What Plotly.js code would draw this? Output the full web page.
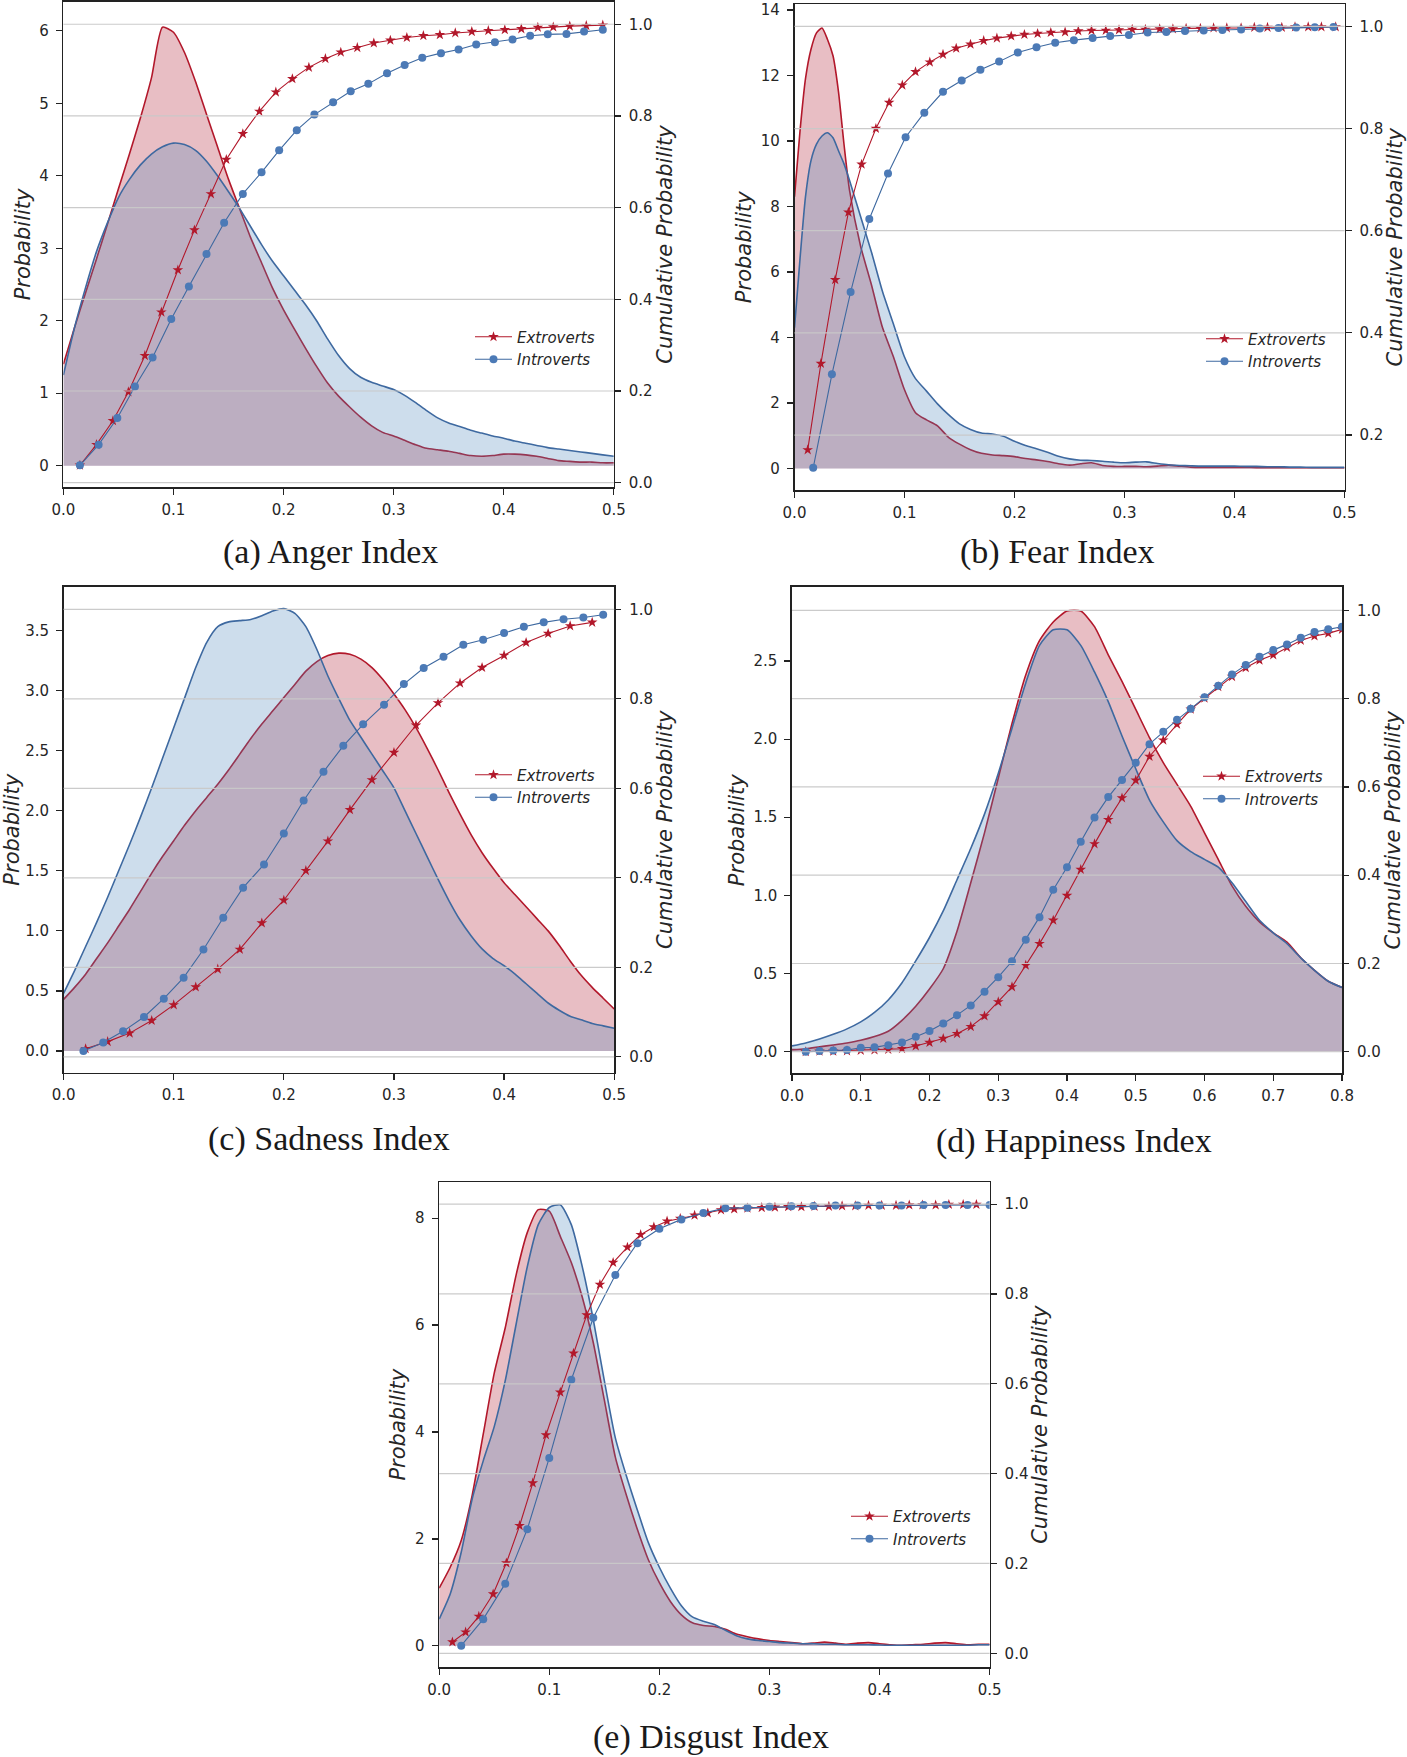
<!DOCTYPE html>
<html>
<head>
<meta charset="utf-8">
<script src="https://cdn.plot.ly/plotly-3.0.1.min.js"></script>
<style>html,body{margin:0;padding:0;background:#fff;}#chart{width:1407px;height:1757px;}</style>
</head>
<body>
<div id="chart"></div>
<script>
// ---------------- DATA ----------------
const seriesNames = ['Extroverts', 'Introverts'];
const captions = ['(a) Anger Index', '(b) Fear Index', '(c) Sadness Index', '(d) Happiness Index', '(e) Disgust Index'];
const leftTitle = 'Probability';
const rightTitle = 'Cumulative Probability';
const cdfTicks = [0, 0.2, 0.4, 0.6, 0.8, 1.0];

// (a) Anger
const angerX = [0,0.01,0.02,0.03,0.04,0.05,0.06,0.07,0.08,0.09,0.10,0.11,0.12,0.13,0.14,0.15,0.16,0.17,0.18,0.19,0.20,0.21,0.22,0.23,0.24,0.25,0.26,0.27,0.28,0.29,0.30,0.31,0.32,0.33,0.34,0.35,0.36,0.37,0.38,0.39,0.40,0.41,0.42,0.43,0.44,0.45,0.46,0.47,0.48,0.49,0.50];
const angerKdeExt = [1.40,1.90,2.38,2.85,3.33,3.82,4.30,4.80,5.35,6.05,5.98,5.70,5.30,4.85,4.40,3.95,3.55,3.15,2.80,2.45,2.15,1.88,1.62,1.37,1.14,0.96,0.81,0.67,0.55,0.46,0.41,0.35,0.29,0.24,0.22,0.20,0.17,0.14,0.13,0.14,0.16,0.16,0.15,0.13,0.10,0.07,0.06,0.05,0.05,0.04,0.04];
const angerKdeInt = [1.25,1.90,2.45,2.95,3.35,3.70,3.95,4.15,4.30,4.40,4.45,4.43,4.35,4.20,4.00,3.78,3.55,3.30,3.05,2.82,2.62,2.42,2.22,2.00,1.75,1.52,1.34,1.22,1.15,1.10,1.05,0.97,0.87,0.76,0.66,0.59,0.54,0.49,0.45,0.41,0.38,0.34,0.31,0.28,0.25,0.23,0.21,0.19,0.17,0.15,0.13];
const angerCdfExtX = [0.015,0.030,0.045,0.059,0.074,0.089,0.104,0.119,0.134,0.148,0.163,0.178,0.193,0.208,0.223,0.238,0.252,0.267,0.282,0.297,0.312,0.327,0.342,0.356,0.371,0.386,0.401,0.416,0.431,0.445,0.460,0.475,0.490];
const angerCdfExt = [0.038,0.083,0.135,0.198,0.277,0.372,0.464,0.551,0.630,0.705,0.761,0.810,0.852,0.881,0.906,0.925,0.939,0.949,0.959,0.965,0.971,0.975,0.977,0.981,0.984,0.986,0.988,0.990,0.993,0.994,0.996,0.997,0.998];
const angerCdfIntX = [0.015,0.032,0.049,0.065,0.081,0.098,0.114,0.130,0.146,0.163,0.180,0.196,0.212,0.228,0.245,0.261,0.277,0.294,0.310,0.326,0.343,0.359,0.375,0.392,0.408,0.424,0.440,0.457,0.473,0.490];
const angerCdfInt = [0.038,0.083,0.141,0.210,0.273,0.357,0.428,0.499,0.567,0.630,0.677,0.725,0.769,0.803,0.830,0.854,0.870,0.893,0.911,0.927,0.937,0.945,0.956,0.961,0.967,0.975,0.978,0.979,0.984,0.988];

// (b) Fear
const fearX = [0,0.005,0.01,0.015,0.02,0.025,0.03,0.035,0.04,0.045,0.05,0.06,0.07,0.08,0.09,0.10,0.11,0.12,0.13,0.14,0.15,0.16,0.17,0.18,0.19,0.20,0.21,0.22,0.23,0.24,0.25,0.26,0.27,0.28,0.29,0.30,0.31,0.32,0.33,0.34,0.35,0.36,0.37,0.38,0.39,0.40,0.41,0.42,0.43,0.44,0.45,0.46,0.47,0.48,0.49,0.50];
const fearKdeExt = [8.3,10.3,11.9,12.8,13.3,13.45,13.1,12.6,11.5,9.9,8.5,6.8,5.6,4.3,3.4,2.4,1.7,1.48,1.3,0.95,0.74,0.57,0.46,0.41,0.39,0.36,0.30,0.26,0.21,0.14,0.10,0.14,0.17,0.09,0.06,0.06,0.06,0.05,0.07,0.10,0.07,0.04,0.03,0.03,0.03,0.03,0.03,0.02,0.02,0.02,0.02,0.02,0.02,0.02,0.02,0.02];
const fearKdeInt = [4.3,6.4,8.3,9.4,9.9,10.15,10.25,10.1,9.7,9.3,8.8,7.7,6.6,5.4,4.4,3.4,2.74,2.36,1.97,1.64,1.36,1.19,1.08,1.05,0.98,0.83,0.70,0.60,0.49,0.37,0.29,0.25,0.24,0.22,0.19,0.17,0.19,0.20,0.15,0.11,0.09,0.08,0.07,0.07,0.07,0.07,0.06,0.06,0.05,0.05,0.04,0.04,0.03,0.03,0.03,0.03];
const fearCdfExtX = [0.012,0.024,0.037,0.049,0.061,0.074,0.086,0.098,0.110,0.123,0.135,0.147,0.160,0.172,0.184,0.197,0.209,0.221,0.233,0.246,0.258,0.270,0.283,0.295,0.307,0.319,0.332,0.344,0.356,0.369,0.381,0.393,0.406,0.418,0.430,0.443,0.455,0.467,0.479,0.492];
const fearCdfExt = [0.171,0.340,0.504,0.636,0.730,0.800,0.851,0.885,0.911,0.930,0.945,0.957,0.965,0.972,0.977,0.981,0.984,0.986,0.988,0.989,0.991,0.992,0.992,0.993,0.994,0.994,0.995,0.995,0.996,0.996,0.997,0.997,0.997,0.998,0.998,0.998,0.999,0.999,0.999,0.999];
const fearCdfIntX = [0.017,0.034,0.051,0.068,0.085,0.101,0.118,0.135,0.152,0.169,0.186,0.203,0.220,0.237,0.254,0.271,0.287,0.304,0.321,0.338,0.355,0.372,0.389,0.406,0.423,0.440,0.456,0.473,0.490];
const fearCdfInt = [0.136,0.319,0.480,0.623,0.712,0.783,0.831,0.872,0.894,0.915,0.931,0.949,0.959,0.968,0.973,0.977,0.981,0.983,0.988,0.989,0.991,0.992,0.993,0.994,0.996,0.997,0.998,0.9985,0.999];

// (c) Sadness
const sadX = [0,0.01,0.02,0.03,0.04,0.05,0.06,0.07,0.08,0.09,0.10,0.11,0.12,0.13,0.14,0.15,0.16,0.17,0.18,0.19,0.20,0.21,0.22,0.23,0.24,0.25,0.26,0.27,0.28,0.29,0.30,0.31,0.32,0.33,0.34,0.35,0.36,0.37,0.38,0.39,0.40,0.41,0.42,0.43,0.44,0.45,0.46,0.47,0.48,0.49,0.50];
const sadKdeExt = [0.43,0.53,0.64,0.77,0.90,1.04,1.18,1.33,1.48,1.62,1.75,1.88,2.00,2.11,2.22,2.34,2.47,2.60,2.72,2.83,2.94,3.05,3.16,3.24,3.29,3.31,3.30,3.26,3.19,3.09,2.97,2.84,2.69,2.52,2.34,2.15,1.97,1.80,1.65,1.52,1.40,1.30,1.20,1.10,1.00,0.88,0.75,0.63,0.53,0.44,0.35];
const sadKdeInt = [0.48,0.67,0.87,1.07,1.28,1.50,1.72,1.95,2.19,2.44,2.69,2.94,3.19,3.40,3.53,3.57,3.58,3.59,3.62,3.66,3.68,3.64,3.53,3.34,3.12,2.93,2.75,2.61,2.47,2.33,2.19,2.00,1.81,1.62,1.43,1.25,1.09,0.96,0.85,0.77,0.71,0.64,0.56,0.48,0.40,0.34,0.29,0.26,0.23,0.21,0.19];
const sadCdfExtX = [0.02,0.04,0.06,0.08,0.10,0.12,0.14,0.16,0.18,0.20,0.22,0.24,0.26,0.28,0.30,0.32,0.34,0.36,0.38,0.40,0.42,0.44,0.46,0.48];
const sadCdfExt = [0.018,0.034,0.053,0.081,0.116,0.156,0.196,0.240,0.299,0.350,0.416,0.482,0.552,0.619,0.680,0.741,0.791,0.835,0.870,0.897,0.926,0.946,0.963,0.971];
const sadCdfIntX = [0.018,0.036,0.054,0.073,0.091,0.109,0.127,0.145,0.163,0.182,0.200,0.218,0.236,0.254,0.272,0.291,0.309,0.327,0.345,0.363,0.381,0.400,0.418,0.436,0.454,0.472,0.490];
const sadCdfInt = [0.013,0.032,0.057,0.089,0.130,0.177,0.240,0.311,0.378,0.430,0.499,0.573,0.637,0.695,0.743,0.787,0.833,0.869,0.894,0.921,0.932,0.947,0.961,0.971,0.978,0.982,0.988];

// (d) Happiness
const happyX = [0,0.02,0.04,0.06,0.08,0.10,0.12,0.14,0.16,0.18,0.20,0.22,0.24,0.26,0.28,0.30,0.32,0.34,0.36,0.38,0.40,0.42,0.44,0.46,0.48,0.50,0.52,0.54,0.56,0.58,0.60,0.62,0.64,0.66,0.68,0.70,0.72,0.74,0.76,0.78,0.80];
const happyKdeExt = [0.012,0.018,0.030,0.042,0.055,0.072,0.096,0.13,0.20,0.29,0.40,0.53,0.77,1.08,1.40,1.75,2.10,2.41,2.63,2.75,2.82,2.82,2.72,2.54,2.37,2.19,2.01,1.85,1.71,1.57,1.40,1.23,1.06,0.93,0.83,0.76,0.70,0.60,0.52,0.45,0.41];
const happyKdeInt = [0.036,0.055,0.080,0.110,0.145,0.19,0.25,0.33,0.44,0.58,0.73,0.90,1.10,1.30,1.52,1.78,2.07,2.36,2.60,2.70,2.70,2.60,2.43,2.24,2.02,1.81,1.61,1.47,1.35,1.28,1.23,1.18,1.08,0.96,0.84,0.76,0.69,0.60,0.52,0.45,0.41];
const happyCdfX = [0.02,0.04,0.06,0.08,0.10,0.12,0.14,0.16,0.18,0.20,0.22,0.24,0.26,0.28,0.30,0.32,0.34,0.36,0.38,0.40,0.42,0.44,0.46,0.48,0.50,0.52,0.54,0.56,0.58,0.60,0.62,0.64,0.66,0.68,0.70,0.72,0.74,0.76,0.78,0.80];
const happyCdfExt = [0.000,0.001,0.001,0.002,0.003,0.004,0.005,0.007,0.013,0.021,0.030,0.041,0.057,0.081,0.113,0.147,0.196,0.245,0.298,0.354,0.413,0.471,0.526,0.575,0.615,0.669,0.706,0.742,0.776,0.801,0.827,0.850,0.870,0.887,0.899,0.916,0.932,0.942,0.948,0.957];
const happyCdfInt = [0.000,0.002,0.003,0.004,0.009,0.010,0.015,0.021,0.034,0.047,0.064,0.083,0.105,0.136,0.169,0.205,0.254,0.305,0.367,0.418,0.476,0.531,0.577,0.616,0.655,0.697,0.725,0.752,0.777,0.803,0.829,0.855,0.876,0.895,0.910,0.923,0.938,0.951,0.957,0.963];

// (e) Disgust
const disgustX = [0,0.01,0.02,0.03,0.04,0.05,0.06,0.07,0.08,0.09,0.10,0.11,0.12,0.13,0.14,0.15,0.16,0.17,0.18,0.19,0.20,0.21,0.22,0.23,0.24,0.25,0.26,0.27,0.28,0.29,0.30,0.31,0.32,0.33,0.34,0.35,0.36,0.37,0.38,0.39,0.40,0.41,0.42,0.43,0.44,0.45,0.46,0.47,0.48,0.49,0.50];
const disgustKdeExt = [1.08,1.47,1.97,2.82,3.96,5.10,5.95,6.95,7.73,8.16,8.13,7.66,7.17,6.52,5.67,4.60,3.53,2.82,2.18,1.61,1.18,0.83,0.58,0.43,0.38,0.36,0.31,0.22,0.17,0.13,0.10,0.08,0.06,0.04,0.05,0.07,0.05,0.03,0.05,0.06,0.04,0.02,0.01,0.02,0.03,0.05,0.06,0.04,0.02,0.03,0.03];
const disgustKdeInt = [0.50,0.97,1.75,2.75,3.46,4.10,4.96,6.03,7.09,7.88,8.20,8.25,7.88,7.09,6.10,4.96,3.89,3.18,2.54,1.93,1.47,1.08,0.75,0.54,0.46,0.40,0.29,0.19,0.13,0.10,0.08,0.06,0.05,0.04,0.04,0.03,0.03,0.02,0.02,0.02,0.014,0.01,0.01,0.01,0.01,0.01,0.01,0.01,0.01,0.02,0.02];
const disgustCdfExtX = [0.012,0.024,0.036,0.049,0.061,0.073,0.085,0.097,0.110,0.122,0.134,0.146,0.158,0.171,0.183,0.195,0.207,0.219,0.232,0.244,0.256,0.268,0.280,0.293,0.305,0.317,0.329,0.341,0.354,0.366,0.378,0.390,0.402,0.415,0.427,0.439,0.451,0.463,0.476,0.488];
const disgustCdfExt = [0.025,0.047,0.082,0.132,0.201,0.284,0.379,0.486,0.581,0.668,0.753,0.821,0.870,0.904,0.932,0.949,0.962,0.968,0.975,0.980,0.987,0.989,0.991,0.992,0.993,0.994,0.994,0.995,0.995,0.996,0.996,0.997,0.997,0.997,0.998,0.998,0.998,0.999,0.999,0.999];
const disgustCdfIntX = [0.02,0.04,0.06,0.08,0.10,0.12,0.14,0.16,0.18,0.20,0.22,0.24,0.26,0.28,0.30,0.32,0.34,0.36,0.38,0.40,0.42,0.44,0.46,0.48,0.50];
const disgustCdfInt = [0.017,0.076,0.155,0.276,0.435,0.609,0.747,0.842,0.913,0.945,0.966,0.980,0.991,0.992,0.994,0.995,0.996,0.997,0.997,0.997,0.997,0.998,0.998,0.998,0.998];

// ---------------- STYLE / LAYOUT ----------------
const W = 1407, H = 1757;
const fx = v => v / W;
const fy = v => 1 - v / H;

const RED_LINE = 'rgb(178,24,43)';
const RED_FILL = 'rgba(173,23,44,0.28)';
const BLUE_LINE = 'rgb(62,105,160)';
const BLUE_FILL = 'rgba(76,134,187,0.28)';
const BLUE_MARK = 'rgb(76,122,182)';

const panels = [
  {x: angerX, ke: angerKdeExt, ki: angerKdeInt, cex: angerCdfExtX, ce: angerCdfExt, cix: angerCdfIntX, ci: angerCdfInt,
   frame: [63.4, 613.8, 1.8, 487.1], xr: [0, 0.5], yr: [-0.295, 6.40], y2r: [-0.0096, 1.049], ydt: 1, yfmt: 'd',
   leg: [470, 320.5], cap: [330.4, 552]},
  {x: fearX, ke: fearKdeExt, ki: fearKdeInt, cex: fearCdfExtX, ce: fearCdfExt, cix: fearCdfIntX, ci: fearCdfInt,
   frame: [794.5, 1344.5, 4.4, 490], xr: [0, 0.5], yr: [-0.66, 14.17], y2r: [0.0925, 1.043], ydt: 2, yfmt: 'd',
   leg: [1201, 322.5], cap: [1057, 552]},
  {x: sadX, ke: sadKdeExt, ki: sadKdeInt, cex: sadCdfExtX, ce: sadCdfExt, cix: sadCdfIntX, ci: sadCdfInt,
   frame: [63.6, 614.2, 587, 1072.5], xr: [0, 0.5], yr: [-0.178, 3.86], y2r: [-0.035, 1.05], ydt: 0.5, yfmt: '.1f',
   leg: [470, 758.5], cap: [329, 1139]},
  {x: happyX, ke: happyKdeExt, ki: happyKdeInt, cex: happyCdfX, ce: happyCdfExt, cix: happyCdfX, ci: happyCdfInt,
   frame: [792, 1342, 587, 1073.4], xr: [0, 0.8], yr: [-0.14, 2.974], y2r: [-0.049, 1.053], ydt: 0.5, yfmt: '.1f',
   leg: [1198, 760], cap: [1074.4, 1140.5]},
  {x: disgustX, ke: disgustKdeExt, ki: disgustKdeInt, cex: disgustCdfExtX, ce: disgustCdfExt, cix: disgustCdfIntX, ci: disgustCdfInt,
   frame: [439.2, 989.6, 1182.1, 1667.2], xr: [0, 0.5], yr: [-0.4, 8.675], y2r: [-0.031, 1.049], ydt: 2, yfmt: 'd',
   leg: [846, 1500], cap: [711.3, 1736.5]}
];

const tickFont = {family: 'DejaVu Sans', size: 15, color: '#262626'};
const titleFont = {family: 'DejaVu Sans', size: 21, color: '#262626', style: 'italic'};
const legendFont = {family: 'DejaVu Sans', size: 15, color: '#262626', style: 'italic'};

const traces = [];
const layout = {
  width: W, height: H,
  margin: {l: 0, r: 0, t: 0, b: 0},
  paper_bgcolor: '#ffffff', plot_bgcolor: 'rgba(0,0,0,0)',
  showlegend: true,
  shapes: [], annotations: []
};

panels.forEach((p, i) => {
  const xId = i === 0 ? 'x' : 'x' + (i + 1);
  const yId = (2 * i + 1) === 1 ? 'y' : 'y' + (2 * i + 1);
  const y2Id = 'y' + (2 * i + 2);
  const legId = i === 0 ? 'legend' : 'legend' + (i + 1);
  const xKey = i === 0 ? 'xaxis' : 'xaxis' + (i + 1);
  const yKey = (2 * i + 1) === 1 ? 'yaxis' : 'yaxis' + (2 * i + 1);
  const y2Key = 'yaxis' + (2 * i + 2);
  const [L, R, T, B] = p.frame;

  // KDE fills (Extroverts first, Introverts on top)
  traces.push({x: p.x, y: p.ke, xaxis: xId, yaxis: yId, type: 'scatter', mode: 'lines', fill: 'tozeroy',
    fillcolor: RED_FILL, line: {color: RED_LINE, width: 1.6, shape: 'spline', smoothing: 0.6},
    showlegend: false, hoverinfo: 'skip', name: seriesNames[0]});
  traces.push({x: p.x, y: p.ki, xaxis: xId, yaxis: yId, type: 'scatter', mode: 'lines', fill: 'tozeroy',
    fillcolor: BLUE_FILL, line: {color: BLUE_LINE, width: 1.6, shape: 'spline', smoothing: 0.6},
    showlegend: false, hoverinfo: 'skip', name: seriesNames[1]});
  // CDFs
  traces.push({x: p.cex, y: p.ce, xaxis: xId, yaxis: y2Id, type: 'scatter', mode: 'lines+markers',
    line: {color: RED_LINE, width: 1.1}, marker: {symbol: 'star', size: 8, color: RED_LINE},
    name: seriesNames[0], legend: legId});
  traces.push({x: p.cix, y: p.ci, xaxis: xId, yaxis: y2Id, type: 'scatter', mode: 'lines+markers',
    line: {color: BLUE_LINE, width: 1.1}, marker: {symbol: 'circle', size: 8, color: BLUE_MARK},
    name: seriesNames[1], legend: legId});

  layout[xKey] = {
    domain: [fx(L), fx(R)], anchor: yId, range: p.xr, dtick: 0.1, tick0: 0, tickformat: '.1f',
    ticks: 'outside', ticklen: 6, tickwidth: 1.2, tickcolor: '#222', showline: true, linecolor: '#222', linewidth: 1.6,
    mirror: true, showgrid: false, zeroline: false, tickfont: tickFont, ticklabeloverflow: 'allow', ticklabelstandoff: 2
  };
  layout[yKey] = {
    domain: [fy(B), fy(T)], anchor: xId, range: p.yr, dtick: p.ydt, tick0: 0, tickformat: p.yfmt,
    ticks: 'outside', ticklen: 6, tickwidth: 1.2, tickcolor: '#222', showline: true, linecolor: '#222', linewidth: 1.6,
    mirror: true, showgrid: false, zeroline: false, tickfont: tickFont, ticklabeloverflow: 'allow', ticklabelstandoff: 4,
    title: {text: leftTitle, font: titleFont, standoff: 3}
  };
  layout[y2Key] = {
    overlaying: yId, side: 'right', anchor: xId, range: p.y2r, dtick: 0.2, tick0: 0, tickformat: '.1f',
    ticks: 'outside', ticklen: 6, tickwidth: 1.2, tickcolor: '#222', showline: false, showgrid: false, zeroline: false,
    tickfont: tickFont, ticklabeloverflow: 'allow', ticklabelstandoff: 5,
    title: {text: rightTitle, font: titleFont, standoff: 3}
  };
  layout[legId] = {
    x: fx(p.leg[0]), y: fy(p.leg[1]), xanchor: 'left', yanchor: 'top', xref: 'paper', yref: 'paper',
    bgcolor: 'rgba(0,0,0,0)', borderwidth: 0, font: legendFont, tracegroupgap: 0, itemwidth: 37, traceorder: 'normal'
  };
  // horizontal grid lines at the cumulative-probability ticks, drawn over the fills
  cdfTicks.filter(t => t >= p.y2r[0] && t <= p.y2r[1]).forEach(t => {
    layout.shapes.push({type: 'line', xref: xId + ' domain', yref: y2Id, x0: 0, x1: 1, y0: t, y1: t,
      line: {color: 'rgba(200,200,200,0.95)', width: 1.2}, layer: 'above'});
  });
  layout.annotations.push({text: captions[i], xref: 'paper', yref: 'paper', x: fx(p.cap[0]), y: fy(p.cap[1]),
    xanchor: 'center', yanchor: 'middle', showarrow: false,
    font: {family: 'Liberation Serif', size: 34, color: '#1a1a1a'}});
});

Plotly.newPlot('chart', traces, layout, {displayModeBar: false, staticPlot: true});
</script>
</body>
</html>
